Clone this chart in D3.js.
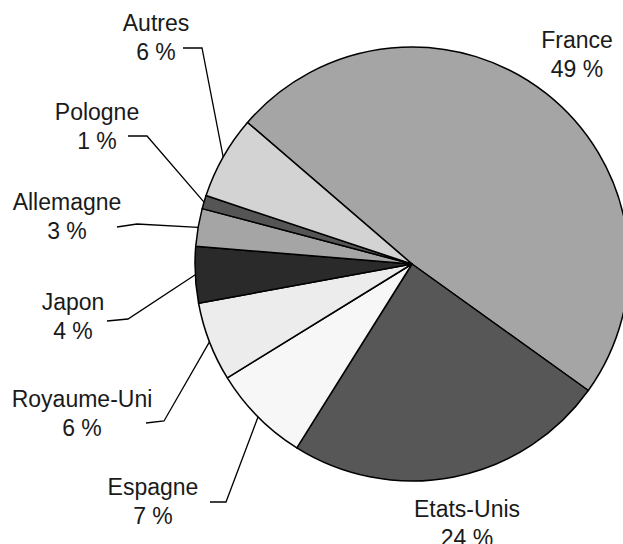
<!DOCTYPE html>
<html>
<head>
<meta charset="utf-8">
<script src="https://cdn.jsdelivr.net/npm/d3@7"></script>
<style>
  body { margin: 0; background: #fff; }
  svg { display: block; }
</style>
</head>
<body>
<svg width="623" height="544"></svg>
<script>
// data (clockwise from the France/Autres edge)
var pays = ["France", "Etats-Unis", "Espagne", "Royaume-Uni", "Japon", "Allemagne", "Pologne", "Autres"];
var parts = [48.6, 24.0, 7.3, 5.9, 4.2, 2.8, 1.0, 6.2];
var etiquettes = ["49 %", "24 %", "7 %", "6 %", "4 %", "3 %", "1 %", "6 %"];
var gris = ["#a5a5a5", "#575757", "#f7f7f7", "#ececec", "#2a2a2a", "#a5a5a5", "#555555", "#d3d3d3"];

// where each label sits (centre x, first baseline) and its leader elbow
var labelPos = {
  "France": [577, 48],
  "Etats-Unis": [467, 517],
  "Espagne": [153, 495],
  "Royaume-Uni": [82, 407],
  "Japon": [73, 310],
  "Allemagne": [67, 210],
  "Pologne": [97, 120],
  "Autres": [156, 31]
};
var leaders = {
  "Espagne": [[210, 502], [226, 502]],
  "Royaume-Uni": [[146, 423], [164, 421]],
  "Japon": [[107, 321], [128, 319]],
  "Allemagne": [[117, 227], [137, 224]],
  "Pologne": [[128, 136], [147, 136]],
  "Autres": [[183, 48], [202, 48]]
};

var svg = d3.select("svg"),
    cx = 412, cy = 264, radius = 217,
    g = svg.append("g").attr("transform", "translate(" + cx + "," + cy + ")");

var data = pays.map(function(d, i) { return {name: d, value: parts[i], pct: etiquettes[i], fill: gris[i]}; });

var startA = -49.3 * Math.PI / 180;
var pie = d3.pie()
    .sort(null)
    .value(function(d) { return d.value; })
    .startAngle(startA)
    .endAngle(startA + 2 * Math.PI);

var arc = d3.arc().innerRadius(0).outerRadius(radius);
var arcs = pie(data);

g.selectAll("path.slice")
  .data(arcs)
  .enter().append("path")
    .attr("class", "slice")
    .attr("d", arc)
    .attr("fill", function(d) { return d.data.fill; })
    .attr("stroke", "#000")
    .attr("stroke-width", 1.5)
    .attr("stroke-linejoin", "round");

// leader lines, ending on the rim at each slice's mid angle
var line = d3.line();
svg.append("g").selectAll("path")
  .data(arcs.filter(function(d) { return leaders[d.data.name]; }))
  .enter().append("path")
    .attr("fill", "none")
    .attr("stroke", "#000")
    .attr("stroke-width", 1.3)
    .attr("d", function(d) {
      var a = (d.startAngle + d.endAngle) / 2,
          end = [cx + radius * Math.sin(a), cy - radius * Math.cos(a)];
      return line(leaders[d.data.name].concat([end]));
    });

var lab = svg.append("g")
    .attr("font-family", "'Liberation Sans', Arial, Helvetica, sans-serif")
    .attr("font-size", 23)
    .attr("fill", "#1a1a1a")
    .attr("text-anchor", "middle")
  .selectAll("text")
  .data(data)
  .enter().append("text")
    .attr("transform", function(d) { return "translate(" + labelPos[d.name][0] + "," + labelPos[d.name][1] + ")"; });

lab.append("tspan").attr("x", 0).attr("y", 0).text(function(d) { return d.name; });
lab.append("tspan").attr("x", 0).attr("y", 29).text(function(d) { return d.pct; });
</script>
</body>
</html>
